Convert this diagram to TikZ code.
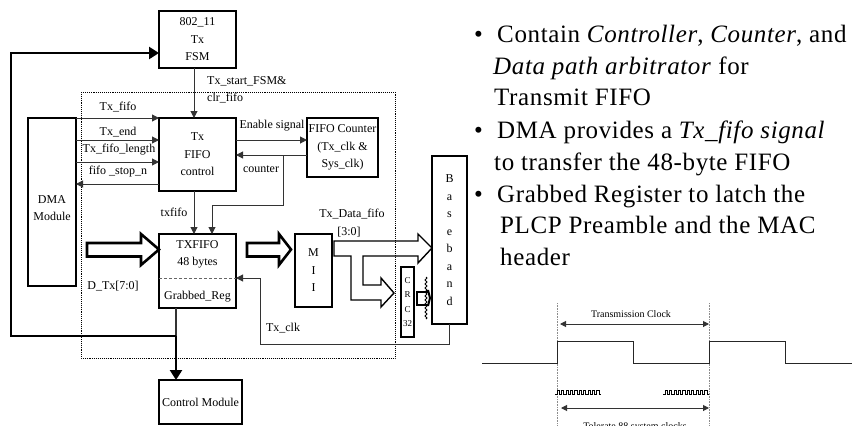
\documentclass[tikz,border=0pt]{standalone}
\usepackage{fontspec}
\setmainfont{Liberation Serif}
\usetikzlibrary{
  arrows.meta,
  positioning,
  calc,
  decorations.pathmorphing
}
\tikzset{
  blockbox/.style={
    draw=black, line width=2.2pt, minimum width=77pt, minimum height=57pt,
    inner sep=0pt, outer sep=0pt, align=center,
    font=\fontsize{12}{17.5}\selectfont
  },
  siglabel/.style={font=\fontsize{12}{14}\selectfont, inner sep=0pt},
  sigline/.style={black!80, line width=1pt},
  sigarrow/.style={sigline, -{Stealth[length=7pt, width=7pt, inset=0pt]}},
  mainarrow/.style={black, line width=2.4pt, -{Stealth[length=10pt, width=12pt, inset=0pt]}},
  hollowarrow/.style={draw=black, line width=2.6pt, miter limit=10},
  databus/.style={draw=black, line width=1.4pt},
  bullettext/.style={anchor=base west, inner sep=0pt, font=\fontsize{25}{28}\selectfont\addfontfeature{LetterSpace=2.5}},
  clockline/.style={black!85, line width=1pt},
  guideline/.style={black!45, line width=.6pt, densely dotted},
  clockspan/.style={black!80, line width=1pt, {Stealth[length=6pt, width=6pt, inset=0pt]}-{Stealth[length=6pt, width=6pt, inset=0pt]}},
  clocklabel/.style={font=\fontsize{10}{12}\selectfont, inner sep=0pt}
}

\begin{document}
\begin{tikzpicture}[x=1pt, y=-1pt]
  \clip (0,0) rectangle (852,426);

  % blocks
  \node[blockbox] (fsm) at (197.5,39.5) {802\_11\\Tx\\FSM};
  \node[blockbox, minimum height=73pt, below=50pt of fsm] (ctrl) {Tx\\FIFO\\control};
  \node[blockbox, minimum height=74pt, below=43pt of ctrl] (txfifo) {TXFIFO\\48 bytes\\[16pt]Grabbed\_Reg};
  \node[blockbox, minimum width=83pt, minimum height=44pt, below=72pt of txfifo.south west, anchor=north west] (cmod) {Control Module};
  \node[blockbox, minimum width=48pt, minimum height=168pt, left=83pt of ctrl.north west, anchor=north east] (dma) {DMA\\[-1pt]Module\\[-30pt]\mbox{}};
  \node[blockbox, minimum width=71pt, minimum height=59pt, right=71pt of ctrl.north east, anchor=north west] (cnt) {FIFO Counter\\(Tx\_clk \&\\Sys\_clk)};
  \node[blockbox, minimum width=37pt, minimum height=73pt] (mii) at (313.5,270.5) {M\\I\\I};
  \node[blockbox, minimum width=35pt, minimum height=168pt] (bband) at (449.5,240) {B\\a\\s\\e\\b\\a\\n\\d};
  \node[blockbox, line width=1.8pt, minimum width=13pt, minimum height=70pt, font=\fontsize{9}{14.5}\selectfont] (crc) at (407.5,302) {C\\R\\C\\32};

  % dotted frame
  \draw[black, line width=.9pt, densely dotted] (81,92) rectangle (395,358);

  % divider in the fifo
  \draw[black!60, line width=.6pt, densely dashed] ([yshift=-7pt]txfifo.west) -- ([yshift=-7pt]txfifo.east);

  % signals
  \draw[sigarrow] ([xshift=-3.5pt]fsm.south) -- ([xshift=-3.5pt]ctrl.north);
  \draw[sigarrow] (dma.north east) -- (ctrl.north west);
  \draw[sigarrow] ([yshift=-22pt]dma.north east) -- ([yshift=-22pt]ctrl.north west);
  \draw[sigarrow] ([yshift=-44pt]dma.north east) -- ([yshift=-44pt]ctrl.north west);
  \draw[sigarrow] ([yshift=-66pt]ctrl.north west) -- ([yshift=-66pt]dma.north east);
  \draw[sigarrow] ([yshift=-22pt]ctrl.north east) -- ([yshift=-22pt]cnt.north west);
  \draw[sigarrow] ([yshift=-37pt]cnt.north west) -- ([yshift=-37pt]ctrl.north east);
  \coordinate (cntbranch) at (283,155);
  \draw[sigarrow] (cntbranch) -- (283,205) -| ([xshift=14.5pt]txfifo.north);
  \draw[sigarrow] ([xshift=-3.5pt]ctrl.south) -- ([xshift=-3.5pt]txfifo.north);
  \draw[sigarrow] ([xshift=-0.5pt]bband.south) -- (449,344) -- (260,344) -- (260,278) -- ([yshift=-7pt]txfifo.east);

  % control paths
  \coordinate (loopjoin) at (176,336);
  \draw[black!80, line width=2pt] ([xshift=-21.5pt]txfifo.south) -- (loopjoin);
  \draw[mainarrow] (loopjoin) -- (loopjoin |- cmod.north);
  \draw[mainarrow] (loopjoin) -- (11,336) |- ([yshift=-13.5pt]fsm.west);

  % hollow data arrows
  \draw[hollowarrow] (87,243) -- (141,243) -- (141,234) -- ([yshift=21.5pt]txfifo.west) -- (141,265) -- (141,256.5) -- (87,256.5) -- cycle;
  \draw[hollowarrow] (247,243) -- (279,243) -- (279,234) -- ([yshift=21pt,xshift=-4pt]mii.west) -- (279,265) -- (279,256.5) -- (247,256.5) -- cycle;
  \draw[databus] (334,241) -- (418,241) -- (418,234) -- ([yshift=-8pt]bband.west) -- (418,263) -- (418,256) -- (363,256) -- (363,285) -- (381,285) -- (381,278) -- ([yshift=9pt,xshift=-7pt]crc.west) -- (381,307) -- (381,300) -- (351,300) -- (351,256) -- (334,256) -- cycle;

  % crc to baseband
  \draw[black, line width=2pt] (428,292) -- (417,292) -- (417,305) -- (428,305);
  \draw[black, line width=2pt] (428,290) -- (430,298) -- (428,306);
  \draw[black, line width=.8pt, decorate, decoration={zigzag, segment length=4pt, amplitude=1pt}] (426,277) -- (426,319);

  % signal labels
  \node[siglabel] (lbfifo) at (118,107) {Tx\_fifo};
  \node[siglabel] (lbend) at (118,132) {Tx\_end};
  \node[siglabel] (lblength) at (119,150) {Tx\_fifo\_length};
  \node[siglabel] (lbstop) at (118,172) {fifo \_stop\_n};
  \node[siglabel, anchor=west] (lbstart) at (207,81) {Tx\_start\_FSM\&};
  \node[siglabel, anchor=west] (lbclr) at (207,98) {clr\_fifo};
  \node[siglabel] (lbenable) at (272,126) {Enable signal};
  \node[siglabel] (lbcounter) at (261,169) {counter};
  \node[siglabel] (lbtxfifo) at (174,212) {txfifo};
  \node[siglabel] (lbdtx) at (113,286) {D\_Tx[7:0]};
  \node[siglabel] (lbdata) at (352,214) {Tx\_Data\_fifo};
  \node[siglabel] (lbnibble) at (349,232) {[3:0]};
  \node[siglabel] (lbclk) at (283,328) {Tx\_clk};

  % bullet text
  \node[bullettext] (bul1) at (474,42) {\textbullet};
  \node[bullettext] (txt1) at (497,42) {Contain \textit{Controller}, \textit{Counter}, and};
  \node[bullettext] (txt2) at (493,74) {\textit{Data path arbitrator} for};
  \node[bullettext] (txt3) at (494,105) {Transmit FIFO};
  \node[bullettext] (bul2) at (474,138) {\textbullet};
  \node[bullettext] (txt4) at (497,138) {DMA provides a \textit{Tx\_fifo signal}};
  \node[bullettext] (txt5) at (494,170) {to transfer the 48-byte FIFO};
  \node[bullettext] (bul3) at (474,202) {\textbullet};
  \node[bullettext] (txt6) at (497,202) {Grabbed Register to latch the};
  \node[bullettext] (txt7) at (500,233) {PLCP Preamble and the MAC};
  \node[bullettext] (txt8) at (500,265) {header};

  % clock diagram
  \draw[guideline] (557,303) -- (557,426);
  \draw[guideline] (709,303) -- (709,426);
  \draw[clockline] (482,363) -- (557,363) -- (557,341) -- (633,341) -- (633,363) -- (709,363) -- (709,341) -- (785,341) -- (785,363) -- (852,363);
  \node[clocklabel] (lbtrans) at (631,314) {Transmission Clock};
  \coordinate (transl) at (560,324);
  \coordinate (transr) at (709,324);
  \draw[clockspan] (transl) -- (transr);
  \foreach \startx in {555,663} {
    \draw[black, line width=.6pt] (\startx,394) -- ++(2,0)
      \foreach \n in {1,...,10} { -- ++(0,-4) -- ++(2.2,0) -- ++(0,4) -- ++(2.2,0) };
  }
  \coordinate (toll) at (561,408);
  \coordinate (tolr) at (709,408);
  \draw[clockspan] (toll) -- (tolr);
  \node[clocklabel] (lbtol) at (635,427) {Tolerate 88 system clocks};
\end{tikzpicture}
\end{document}
